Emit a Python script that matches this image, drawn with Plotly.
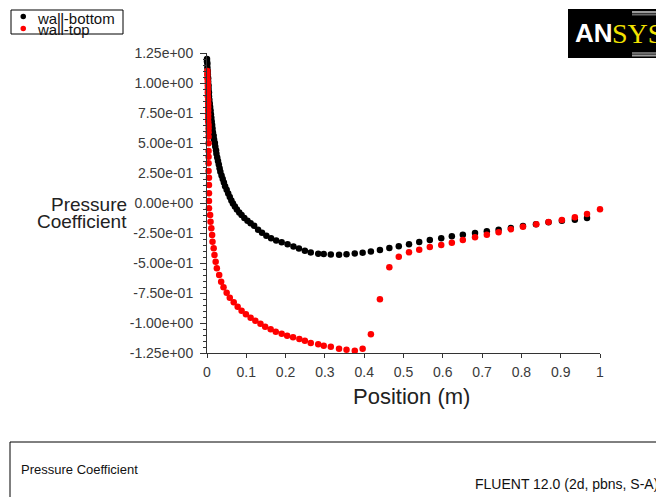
import plotly.graph_objects as go

# Pressure coefficient along the lower and upper walls
bottom_x = [
    0.000, 0.000, 0.001, 0.001, 0.002, 0.002, 0.003, 0.003, 0.004, 0.004,
    0.005, 0.005, 0.006, 0.007, 0.008, 0.009, 0.010, 0.011, 0.012, 0.013,
    0.014, 0.015, 0.017, 0.018, 0.020, 0.021, 0.023, 0.024, 0.026, 0.028,
    0.030, 0.032, 0.034, 0.037, 0.040, 0.043, 0.046, 0.050, 0.054, 0.058,
    0.062, 0.066, 0.071, 0.076, 0.082, 0.088, 0.095, 0.103, 0.111, 0.120,
    0.130, 0.140, 0.151, 0.163, 0.176, 0.190, 0.205, 0.220, 0.234, 0.249,
    0.264, 0.283, 0.297, 0.315, 0.336, 0.355, 0.376, 0.396, 0.417, 0.440,
    0.464, 0.488, 0.514, 0.540, 0.567, 0.596, 0.623, 0.651, 0.682, 0.712,
    0.742, 0.773, 0.804, 0.837, 0.869, 0.903, 0.936, 0.967,
]
bottom_cp = [
    1.20, 1.18, 1.16, 1.13, 1.10, 1.07, 1.04, 1.01, 0.98, 0.95,
    0.92, 0.89, 0.86, 0.83, 0.80, 0.77, 0.74, 0.71, 0.68, 0.65,
    0.62, 0.59, 0.56, 0.53, 0.50, 0.47, 0.44, 0.41, 0.38, 0.35,
    0.32, 0.29, 0.26, 0.23, 0.20, 0.17, 0.14, 0.11, 0.08, 0.05,
    0.02, -0.005, -0.03, -0.055, -0.08, -0.10, -0.125, -0.148, -0.168, -0.19,
    -0.222, -0.248, -0.272, -0.293, -0.312, -0.328, -0.344, -0.362, -0.38, -0.398,
    -0.412, -0.422, -0.425, -0.430, -0.432, -0.427, -0.420, -0.414, -0.405, -0.392,
    -0.375, -0.361, -0.344, -0.325, -0.308, -0.294, -0.278, -0.264, -0.250, -0.236,
    -0.222, -0.208, -0.192, -0.178, -0.161, -0.147, -0.139, -0.125,
]

top_x = [
    0.001, 0.001, 0.001, 0.002, 0.002, 0.002, 0.002, 0.002, 0.003, 0.003,
    0.003, 0.003, 0.003, 0.003, 0.003, 0.004, 0.004, 0.004, 0.004, 0.004,
    0.004, 0.004, 0.004, 0.004, 0.005, 0.005, 0.005, 0.005, 0.005,
    0.008, 0.009, 0.011, 0.013, 0.014, 0.017, 0.019, 0.022, 0.025, 0.031,
    0.036, 0.042, 0.050, 0.058, 0.068, 0.078, 0.088, 0.099, 0.111, 0.123,
    0.136, 0.148, 0.162, 0.175, 0.190, 0.204, 0.219, 0.235,
    0.249, 0.264, 0.283, 0.297, 0.315, 0.336, 0.355, 0.376, 0.396, 0.417,
    0.440, 0.464, 0.488, 0.514, 0.540, 0.567, 0.596, 0.623, 0.651, 0.682,
    0.712, 0.742, 0.773, 0.804, 0.838, 0.869, 0.903, 0.936, 0.967, 1.000,
]
top_cp = [
    1.10, 1.07, 1.04, 1.01, 0.98, 0.95, 0.92, 0.89, 0.86, 0.83,
    0.80, 0.77, 0.74, 0.71, 0.68, 0.65, 0.62, 0.59, 0.553, 0.497,
    0.433, 0.386, 0.331, 0.267, 0.211, 0.150, 0.081, 0.017, -0.044,
    -0.100, -0.156, -0.211, -0.267, -0.322, -0.378, -0.433, -0.489, -0.544, -0.600,
    -0.656, -0.703, -0.747, -0.789, -0.828, -0.864, -0.897, -0.928, -0.956, -0.981,
    -1.006, -1.031, -1.053, -1.072, -1.089, -1.106, -1.119, -1.133,
    -1.147, -1.167, -1.178, -1.189, -1.197, -1.214, -1.222, -1.231, -1.214, -1.094,
    -0.803, -0.536, -0.447, -0.411, -0.389, -0.367, -0.350, -0.331, -0.308, -0.286,
    -0.264, -0.244, -0.219, -0.197, -0.178, -0.158, -0.142, -0.119, -0.092, -0.053,
]

series_names = ["wall-bottom", "wall-top"]
series_colors = ["#000000", "#ff0000"]

y_ticks = [1.25, 1.0, 0.75, 0.5, 0.25, 0.0, -0.25, -0.5, -0.75, -1.0, -1.25]
y_tick_labels = ["1.25e+00", "1.00e+00", "7.50e-01", "5.00e-01", "2.50e-01",
                 "0.00e+00", "-2.50e-01", "-5.00e-01", "-7.50e-01",
                 "-1.00e+00", "-1.25e+00"]
x_ticks = [0, 0.1, 0.2, 0.3, 0.4, 0.5, 0.6, 0.7, 0.8, 0.9, 1.0]
x_tick_labels = ["0", "0.1", "0.2", "0.3", "0.4", "0.5", "0.6", "0.7", "0.8", "0.9", "1"]

W, H = 656, 497
L, R, T, B = 207, 56, 53, 144


def px(x):
    """Horizontal page pixel -> paper coordinate."""
    return (x - L) / (W - L - R)


def py(y):
    """Vertical page pixel (from top) -> paper coordinate."""
    return (H - B - y) / (H - T - B)


FONT = "Liberation Sans, Arial, Helvetica, sans-serif"

fig = go.Figure()
for xs, ys, name, color in [(bottom_x, bottom_cp, series_names[0], series_colors[0]),
                            (top_x, top_cp, series_names[1], series_colors[1])]:
    fig.add_trace(go.Scatter(
        x=xs, y=ys, mode="markers", name=name,
        marker=dict(size=6.5, color=color, line=dict(width=0)),
        cliponaxis=False,
    ))

axis_color = "#333333"
tick_font = dict(family=FONT, size=14, color="#3a3a3a")

fig.update_layout(
    width=W, height=H, autosize=False,
    margin=dict(l=L, r=R, t=T, b=B, pad=0),
    paper_bgcolor="white", plot_bgcolor="white",
    showlegend=False,
    xaxis=dict(
        range=[0, 1], tickmode="array", tickvals=x_ticks, ticktext=x_tick_labels,
        ticks="outside", ticklen=4, tickwidth=1, tickcolor=axis_color,
        showline=True, linecolor=axis_color, linewidth=1,
        showgrid=False, zeroline=False, tickfont=tick_font,
        ticklabelstandoff=2,
    ),
    yaxis=dict(
        range=[-1.25, 1.25], tickmode="array", tickvals=y_ticks, ticktext=y_tick_labels,
        ticks="outside", ticklen=6, tickwidth=1, tickcolor=axis_color,
        minor=dict(tickmode="linear", tick0=0, dtick=0.05, ticks="outside",
                   ticklen=3, tickwidth=1, tickcolor=axis_color, showgrid=False),
        showline=True, linecolor=axis_color, linewidth=1,
        showgrid=False, zeroline=False, tickfont=tick_font,
        ticklabelstandoff=4,
    ),
)

shapes = []
annotations = []

# legend box with markers
shapes.append(dict(type="rect", xref="paper", yref="paper",
                   x0=px(11), x1=px(123), y0=py(34), y1=py(10),
                   line=dict(color="#000000", width=1), fillcolor="white"))
for cy, color in [(16.5, series_colors[0]), (28.5, series_colors[1])]:
    shapes.append(dict(type="circle", xref="paper", yref="paper",
                       x0=px(20.5), x1=px(26), y0=py(cy + 2.75), y1=py(cy - 2.75),
                       line=dict(width=0), fillcolor=color))
for cy, label in [(18.5, series_names[0]), (29.5, series_names[1])]:
    annotations.append(dict(xref="paper", yref="paper", x=px(35), y=py(cy),
                            xanchor="left", yanchor="middle", showarrow=False,
                            text=label, font=dict(family=FONT, size=15, color="#111111")))

# axis titles
annotations.append(dict(xref="paper", yref="paper", x=px(129), y=py(204),
                        xanchor="right", yanchor="middle", showarrow=False,
                        text="Pressure", font=dict(family=FONT, size=19, color="#222222")))
annotations.append(dict(xref="paper", yref="paper", x=px(129), y=py(221),
                        xanchor="right", yanchor="middle", showarrow=False,
                        text="Coefficient", font=dict(family=FONT, size=19, color="#222222")))
annotations.append(dict(xref="paper", yref="paper", x=px(411), y=py(396),
                        xanchor="center", yanchor="middle", showarrow=False,
                        text="Position (m)", font=dict(family=FONT, size=22, color="#222222")))

# logo block
shapes.append(dict(type="rect", xref="paper", yref="paper",
                   x0=px(568), x1=px(662), y0=py(58), y1=py(9),
                   line=dict(width=0), fillcolor="#000000"))
for yy, col in [(12, "#9a9a9a"), (14.5, "#6a6a6a"), (53, "#6a6a6a"), (55.5, "#9a9a9a")]:
    shapes.append(dict(type="line", xref="paper", yref="paper",
                       x0=px(632), x1=px(662), y0=py(yy), y1=py(yy),
                       line=dict(color=col, width=2)))
annotations.append(dict(xref="paper", yref="paper", x=px(573), y=py(33),
                        xanchor="left", yanchor="middle", showarrow=False,
                        text="<b>AN</b>",
                        font=dict(family=FONT, size=26, color="#ffffff")))
annotations.append(dict(xref="paper", yref="paper", x=px(610), y=py(33),
                        xanchor="left", yanchor="middle", showarrow=False,
                        text="SYS",
                        font=dict(family="Liberation Serif, Times New Roman, serif",
                                  size=28, color="#f2e200")))

# bottom information panel
shapes.append(dict(type="rect", xref="paper", yref="paper",
                   x0=px(10), x1=px(680), y0=py(520), y1=py(442),
                   line=dict(color="#000000", width=1), fillcolor="rgba(0,0,0,0)"))
annotations.append(dict(xref="paper", yref="paper", x=px(19), y=py(469),
                        xanchor="left", yanchor="middle", showarrow=False,
                        text="Pressure Coefficient",
                        font=dict(family=FONT, size=13, color="#111111")))
annotations.append(dict(xref="paper", yref="paper", x=px(660), y=py(484),
                        xanchor="right", yanchor="middle", showarrow=False,
                        text="FLUENT 12.0 (2d, pbns, S-A)",
                        font=dict(family=FONT, size=14, color="#111111")))

fig.update_layout(shapes=shapes, annotations=annotations)

fig.write_html("out.html")
